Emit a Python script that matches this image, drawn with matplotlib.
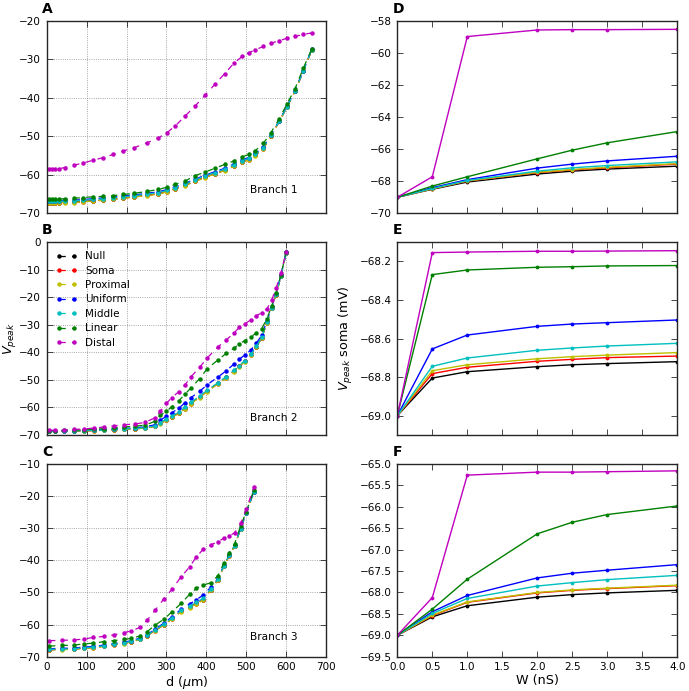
import matplotlib
matplotlib.use('Agg')
import matplotlib.pyplot as plt
from matplotlib.ticker import MultipleLocator

plt.rcParams['font.family'] = ['DejaVu Sans']
plt.rcParams['mathtext.fontset'] = 'dejavusans'

# ---------------- data ----------------
labels = ['Null', 'Soma', 'Proximal', 'Uniform', 'Middle', 'Linear', 'Distal']
colors = ['k', 'r', 'y', 'b', 'c', 'g', 'm']

# Branch 1 (panel A)
d1 = [5, 14, 22, 31, 45, 68, 92, 117, 142, 167, 192, 220, 251, 280, 302, 322,
      347, 372, 397, 421, 446, 469, 490, 507, 523, 543, 562, 583, 602, 622, 643, 664]
b1_null = [-67.2, -67.2, -67.2, -67.2, -67.1, -67.1, -66.9, -66.7, -66.55, -66.3, -66.0, -65.7, -65.3, -64.9, -64.3, -63.6,
           -62.7, -61.6, -60.6, -59.7, -58.8, -57.7, -56.6, -56.0, -54.9, -53.15, -49.85, -46.1, -42.4, -38.3, -33.1, -27.6]
b1_soma = [-67.25, -67.25, -67.25, -67.25, -67.15, -67.15, -66.95, -66.75, -66.6, -66.35, -66.05, -65.75, -65.35, -64.95, -64.35, -63.65,
           -62.75, -61.65, -60.65, -59.75, -58.85, -57.75, -56.65, -56.05, -54.95, -53.2, -49.9, -46.1, -42.4, -38.3, -33.1, -27.6]
b1_prox = [-67.3, -67.3, -67.3, -67.3, -67.2, -67.2, -67.0, -66.8, -66.65, -66.4, -66.1, -65.8, -65.4, -65.0, -64.4, -63.7,
           -62.8, -61.7, -60.7, -59.8, -58.9, -57.8, -56.7, -56.1, -55.0, -53.2, -49.9, -46.1, -42.4, -38.3, -33.1, -27.6]
b1_unif = [-66.7, -66.7, -66.7, -66.7, -66.6, -66.6, -66.4, -66.2, -66.0, -65.8, -65.5, -65.2, -64.8, -64.4, -63.8, -63.1,
           -62.2, -61.1, -60.1, -59.2, -58.3, -57.2, -56.1, -55.5, -54.4, -52.8, -49.6, -45.9, -42.2, -38.1, -32.9, -27.4]
b1_mid = [-66.9, -66.9, -66.9, -66.9, -66.8, -66.8, -66.6, -66.4, -66.25, -66.0, -65.7, -65.4, -65.0, -64.6, -64.0, -63.3,
          -62.4, -61.3, -60.3, -59.4, -58.5, -57.4, -56.3, -55.7, -54.6, -52.95, -49.7, -46.0, -42.3, -38.2, -33.0, -27.5]
b1_lin = [-66.3, -66.3, -66.3, -66.3, -66.2, -66.1, -65.9, -65.7, -65.6, -65.4, -65.1, -64.8, -64.3, -63.8, -63.2, -62.5,
          -61.6, -60.2, -59.3, -58.3, -57.3, -56.4, -55.3, -54.7, -53.7, -51.8, -49.0, -45.4, -41.6, -37.7, -32.3, -27.3]
b1_dist = [-58.6, -58.6, -58.5, -58.4, -58.1, -57.5, -56.9, -56.2, -55.5, -54.7, -53.8, -52.9, -51.7, -50.4, -49.0, -47.3,
           -44.7, -42.1, -39.3, -36.5, -33.7, -31.0, -29.2, -28.2, -27.5, -26.6, -25.8, -25.1, -24.5, -24.0, -23.5, -23.1]

# Branch 2 (panel B)
d2 = [6, 22, 43, 68, 93, 118, 143, 168, 193, 222, 247, 272, 285, 300, 314, 331, 346,
      361, 383, 402, 429, 450, 469, 483, 496, 512, 525, 539, 552, 564, 575, 587, 600]
b2_null = [-68.65, -68.65, -68.65, -68.55, -68.45, -68.35, -68.25, -68.1, -67.9, -67.7, -67.4, -66.8, -65.7, -64.5, -63.4, -62.0, -60.3,
           -58.5, -56.2, -54.1, -51.3, -49.1, -46.8, -45.0, -43.2, -40.8, -38.0, -34.7, -29.1, -23.9, -19.1, -12.3, -4.0]
b2_soma = [-68.7, -68.7, -68.7, -68.6, -68.5, -68.4, -68.3, -68.15, -67.95, -67.75, -67.45, -66.85, -65.8, -64.6, -63.5, -62.1, -60.4,
           -58.6, -56.3, -54.2, -51.4, -49.2, -46.9, -45.1, -43.3, -40.9, -38.1, -34.8, -29.2, -23.9, -19.1, -12.3, -4.0]
b2_prox = [-68.7, -68.7, -68.7, -68.6, -68.5, -68.4, -68.3, -68.2, -68.0, -67.8, -67.5, -66.9, -65.9, -64.7, -63.6, -62.2, -60.5,
           -58.7, -56.4, -54.3, -51.5, -49.3, -47.0, -45.2, -43.4, -41.0, -38.2, -34.8, -29.2, -23.9, -19.1, -12.3, -4.0]
b2_unif = [-68.5, -68.5, -68.5, -68.4, -68.3, -68.2, -68.0, -67.8, -67.6, -67.4, -67.0, -66.3, -64.6, -63.2, -61.9, -60.3, -58.4,
           -56.5, -54.2, -51.8, -49.0, -46.7, -44.3, -42.5, -41.0, -39.1, -36.8, -33.8, -28.6, -23.5, -18.8, -12.0, -3.8]
b2_mid = [-68.6, -68.6, -68.6, -68.5, -68.4, -68.3, -68.2, -68.0, -67.8, -67.6, -67.3, -66.7, -65.5, -64.3, -63.1, -61.7, -60.0,
          -58.2, -55.9, -53.8, -51.0, -48.8, -46.5, -44.8, -43.0, -40.6, -37.9, -34.6, -29.0, -23.8, -19.0, -12.2, -4.0]
b2_lin = [-68.4, -68.4, -68.3, -68.3, -68.1, -67.9, -67.7, -67.4, -67.1, -66.8, -66.4, -65.0, -62.8, -61.4, -59.7, -57.6, -55.3,
          -53.0, -49.6, -46.0, -42.8, -40.4, -38.5, -37.0, -35.8, -34.3, -33.1, -31.4, -27.8, -23.1, -18.5, -11.9, -3.8]
b2_dist = [-68.3, -68.3, -68.2, -68.0, -67.8, -67.5, -67.1, -66.7, -66.3, -66.0, -65.4, -63.7, -61.3, -58.5, -56.4, -54.3, -52.0,
           -49.0, -45.5, -42.1, -38.1, -35.5, -33.1, -30.9, -29.7, -28.2, -26.8, -25.6, -24.3, -21.0, -16.7, -11.3, -3.8]

# Branch 3 (panel C)
d3 = [6, 38, 68, 93, 117, 143, 168, 193, 212, 235, 252, 272, 293,
      314, 337, 358, 375, 392, 411, 429, 444, 458, 471, 486, 500, 519]
b3_null = [-67.8, -67.7, -67.6, -67.3, -67.1, -66.7, -66.2, -65.8, -65.3, -64.5, -63.4, -61.8, -60.1,
           -58.1, -55.8, -54.5, -53.4, -52.2, -49.1, -46.0, -41.8, -38.4, -35.4, -30.1, -25.3, -18.6]
b3_soma = [-67.85, -67.75, -67.65, -67.35, -67.15, -66.75, -66.25, -65.85, -65.35, -64.55, -63.45, -61.85, -60.15,
           -58.2, -55.9, -54.6, -53.5, -52.3, -49.2, -46.1, -41.9, -38.5, -35.5, -30.2, -25.4, -18.6]
b3_prox = [-67.9, -67.8, -67.7, -67.4, -67.2, -66.8, -66.3, -65.9, -65.4, -64.6, -63.5, -61.9, -60.2,
           -58.3, -56.0, -54.7, -53.6, -52.4, -49.3, -46.2, -41.9, -38.5, -35.5, -30.2, -25.4, -18.6]
b3_unif = [-67.5, -67.4, -67.3, -67.0, -66.8, -66.4, -65.9, -65.5, -65.0, -64.2, -63.1, -61.4, -59.6,
           -57.6, -55.2, -53.6, -52.3, -50.8, -48.4, -45.6, -41.5, -38.2, -35.3, -30.0, -25.3, -18.6]
b3_mid = [-67.7, -67.6, -67.5, -67.2, -67.0, -66.6, -66.1, -65.7, -65.2, -64.4, -63.3, -61.6, -59.9,
          -57.9, -55.6, -54.2, -53.1, -51.8, -48.9, -45.9, -41.7, -38.3, -35.4, -30.1, -25.3, -18.6]
b3_lin = [-66.7, -66.5, -66.4, -66.0, -65.8, -65.3, -65.0, -64.6, -64.3, -63.5, -62.2, -60.1, -58.4,
          -56.0, -53.4, -50.6, -48.7, -47.7, -47.0, -44.8, -40.8, -37.6, -34.8, -29.3, -24.9, -18.1]
b3_dist = [-65.0, -64.9, -64.8, -64.5, -64.0, -63.7, -63.2, -62.5, -62.0, -60.8, -58.6, -55.5, -52.1,
           -49.0, -45.1, -42.1, -38.9, -36.6, -35.2, -34.2, -33.1, -32.4, -31.4, -28.5, -24.1, -17.3]

# Conductance sweep (panels D, E, F)
W = [0, 0.5, 1, 2, 2.5, 3, 4]
d_null = [-69.0, -68.5, -68.05, -67.55, -67.37, -67.24, -67.06]
d_soma = [-69.0, -68.47, -67.99, -67.46, -67.29, -67.16, -66.93]
d_prox = [-69.0, -68.47, -67.98, -67.44, -67.27, -67.13, -66.9]
d_unif = [-69.0, -68.4, -67.9, -67.18, -66.93, -66.73, -66.44]
d_mid = [-69.0, -68.45, -67.95, -67.37, -67.16, -67.02, -66.79]
d_lin = [-69.0, -68.3, -67.72, -66.6, -66.06, -65.6, -64.9]
d_dist = [-69.0, -67.72, -58.97, -58.56, -58.54, -58.54, -58.52]

e_null = [-69.0, -68.805, -68.772, -68.746, -68.736, -68.730, -68.720]
e_soma = [-69.0, -68.782, -68.749, -68.718, -68.708, -68.699, -68.691]
e_prox = [-69.0, -68.767, -68.736, -68.705, -68.694, -68.686, -68.673]
e_unif = [-69.0, -68.654, -68.582, -68.537, -68.525, -68.518, -68.504]
e_mid = [-69.0, -68.744, -68.701, -68.661, -68.649, -68.639, -68.625]
e_lin = [-69.0, -68.269, -68.245, -68.231, -68.228, -68.224, -68.222]
e_dist = [-69.0, -68.155, -68.152, -68.148, -68.148, -68.147, -68.145]

f_null = [-69.0, -68.57, -68.31, -68.11, -68.05, -68.01, -67.95]
f_soma = [-69.0, -68.54, -68.23, -68.01, -67.95, -67.91, -67.84]
f_prox = [-69.0, -68.53, -68.22, -68.0, -67.94, -67.9, -67.83]
f_unif = [-69.0, -68.45, -68.07, -67.66, -67.55, -67.48, -67.35]
f_mid = [-69.0, -68.49, -68.14, -67.85, -67.77, -67.70, -67.60]
f_lin = [-69.0, -68.39, -67.69, -66.63, -66.36, -66.18, -65.98]
f_dist = [-69.0, -68.12, -65.26, -65.19, -65.19, -65.18, -65.16]

# ---------------- figure ----------------
FW, FH = 689, 691
fig = plt.figure(figsize=(FW / 100, FH / 100), dpi=100)


def rect(x0, y0, x1, y1):
    return [x0 / FW, 1 - y1 / FH, (x1 - x0) / FW, (y1 - y0) / FH]


LX = (46.7, 326.0)
RX = (397.3, 677.3)
ROWS = [(21.0, 213.3), (242.0, 435.0), (464.0, 656.7)]

TICK_FS = 7.5
LABEL_FS = 9.2


def style(ax):
    ax.tick_params(direction='in', top=True, right=True, length=4, width=0.5,
                   labelsize=TICK_FS, pad=4)
    for s in ax.spines.values():
        s.set_linewidth(1.0)
        s.set_edgecolor('0.15')
    ax.ticklabel_format(axis='y', useOffset=False)


left_sets = [
    (d1, [b1_null, b1_soma, b1_prox, b1_unif, b1_mid, b1_lin, b1_dist], (-70, -20), 'Branch 1', 'A'),
    (d2, [b2_null, b2_soma, b2_prox, b2_unif, b2_mid, b2_lin, b2_dist], (-70, 0), 'Branch 2', 'B'),
    (d3, [b3_null, b3_soma, b3_prox, b3_unif, b3_mid, b3_lin, b3_dist], (-70, -10), 'Branch 3', 'C'),
]

for i, (dd, series, ylim, name, letter) in enumerate(left_sets):
    y0, y1 = ROWS[i]
    ax = fig.add_axes(rect(LX[0], y0, LX[1], y1))
    for vals, c, lab in zip(series, colors, labels):
        ax.plot(dd, vals, color=c, linestyle=(0, (5, 5)), linewidth=0.9,
                marker='.', markersize=4.4, label=lab)
    ax.set_xlim(0, 700)
    ax.set_ylim(*ylim)
    ax.xaxis.set_major_locator(MultipleLocator(100))
    ax.yaxis.set_major_locator(MultipleLocator(10))
    ax.grid(True, color='0.55', linestyle=':', linewidth=0.6)
    style(ax)
    ax.text(510, -64, name, fontsize=7.6, ha='left', va='center')
    if i < 2:
        ax.tick_params(labelbottom=False)
    else:
        ax.set_xlabel(r'd ($\mu$m)', fontsize=LABEL_FS, labelpad=1.0)
    if i == 1:
        ax.set_ylabel(r'$V_{peak}$', fontsize=LABEL_FS)
        ax.yaxis.set_label_coords(-0.102, 0.5)
        ax.legend(loc='upper left', frameon=False, fontsize=7.5, numpoints=2,
                  handlelength=2.0, handletextpad=0.8, labelspacing=0.42,
                  borderaxespad=0.5, borderpad=0.4)
    fig.text(42 / FW, 1 - (y0 - 7.7) / FH, letter, fontsize=10, fontweight='bold',
             ha='left', va='baseline')

right_sets = [
    ([d_null, d_soma, d_prox, d_unif, d_mid, d_lin, d_dist], (-70, -58), 2, 'D'),
    ([e_null, e_soma, e_prox, e_unif, e_mid, e_lin, e_dist], (-69.1, -68.1), 0.2, 'E'),
    ([f_null, f_soma, f_prox, f_unif, f_mid, f_lin, f_dist], (-69.5, -65.0), 0.5, 'F'),
]

for i, (series, ylim, step, letter) in enumerate(right_sets):
    y0, y1 = ROWS[i]
    ax = fig.add_axes(rect(RX[0], y0, RX[1], y1))
    for vals, c, lab in zip(series, colors, labels):
        ax.plot(W, vals, color=c, linestyle='-', linewidth=1.0,
                marker='.', markersize=3.5, label=lab)
    ax.set_xlim(0, 4)
    ax.set_ylim(*ylim)
    ax.xaxis.set_major_locator(MultipleLocator(0.5))
    ax.yaxis.set_major_locator(MultipleLocator(step))
    style(ax)
    if i < 2:
        ax.tick_params(labelbottom=False)
    else:
        ax.set_xlabel('W (nS)', fontsize=LABEL_FS, labelpad=1.0)
    if i == 1:
        ax.set_ylabel(r'$V_{peak}$ soma (mV)', fontsize=LABEL_FS)
        ax.yaxis.set_label_coords(-0.151, 0.5)
    fig.text(393 / FW, 1 - (y0 - 7.7) / FH, letter, fontsize=10, fontweight='bold',
             ha='left', va='baseline')

fig.savefig('out.png', dpi=100)
